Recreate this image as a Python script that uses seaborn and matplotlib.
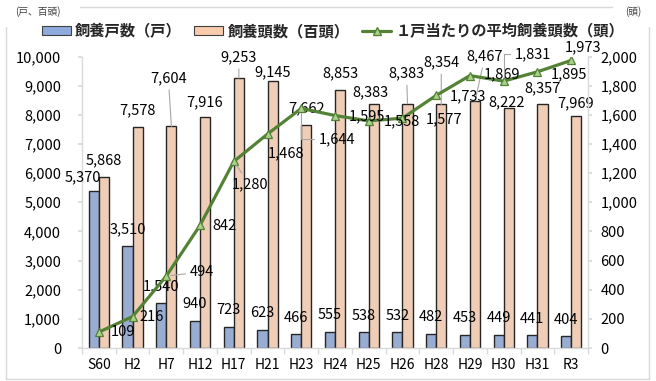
import numpy as np
import pandas as pd
import matplotlib
matplotlib.use("Agg")
import matplotlib.pyplot as plt
from matplotlib.lines import Line2D
from matplotlib.patches import Patch
from matplotlib.ticker import FuncFormatter, MultipleLocator, FixedLocator
import seaborn as sns

# ---- data -------------------------------------------------------------
categories = ["S60", "H2", "H7", "H12", "H17", "H21", "H23", "H24",
              "H25", "H26", "H28", "H29", "H30", "H31", "R3"]
households = [5370, 3510, 1540, 940, 723, 623, 466, 555,
              538, 532, 482, 453, 449, 441, 404]            # 飼養戸数（戸）
head_hundreds = [5868, 7578, 7604, 7916, 9253, 9145, 7662, 8853,
                 8383, 8383, 8354, 8467, 8222, 8357, 7969]  # 飼養頭数（百頭）
avg_head = [109, 216, 494, 842, 1280, 1468, 1644, 1595,
            1558, 1577, 1733, 1869, 1831, 1895, 1973]       # 1戸当たりの平均飼養頭数（頭）

series_households = "飼養戸数（戸）"
series_head = "飼養頭数（百頭）"
series_avg = "１戸当たりの平均飼養頭数（頭）"

# ---- label placement (pixel offsets from the mark; y up) ---------------
hh_offsets = {"S60": (-11, 14)}
head_offsets = {"H7": (-3, 48), "H17": (0, 21), "H21": (0, 9), "H25": (-3, 11),
                "H26": (-1, 30), "H28": (0, 42), "H29": (10, 45), "H30": (-2, 6),
                "R3": (-1, 12), "H12": (-1, 15)}
head_leaders = {"H7", "H17", "H26", "H28", "H29"}
avg_offsets = {"S60": (24, 0), "H2": (19, 0), "H7": (36, 4), "H12": (24, -1),
               "H17": (16, -23), "H21": (18, -19), "H23": (36, -31), "H24": (32, -1),
               "H25": (33, 0), "H26": (42, -1), "H28": (32, -1), "H29": (32, 1),
               "H30": (29, 27), "H31": (32, -2), "R3": (12, 13)}
avg_leaders = {"H7": "arc3", "H17": "arc3",
               "H23": "angle,angleA=0,angleB=90,rad=0",
               "H30": "angle,angleA=0,angleB=90,rad=0"}

# ---- styling ----------------------------------------------------------
sns.set_theme(style="white")
plt.rcParams["font.family"] = ["Noto Sans CJK JP", "DejaVu Sans"]

BLUE = "#8FAADC"
ORANGE = "#F8CBAD"
GREEN = "#548235"
LIGHT_GREEN = "#A9D18E"
AXIS_GREY = "#D9D9D9"
LEADER_GREY = "#A6A6A6"
TEXT = "#000000"
LABEL_FS = 10.5
TICK_FS = 10.5

fig = plt.figure(figsize=(6.56, 3.81), dpi=100)
W, H = 656, 381
ax = fig.add_axes([82 / W, 1 - 348 / H, (588 - 82) / W, (348 - 56.5) / H])

df = pd.DataFrame({
    "category": categories * 2,
    "value": households + head_hundreds,
    "series": [series_households] * len(categories) + [series_head] * len(categories),
})

sns.barplot(data=df, x="category", y="value", hue="series", order=categories,
            hue_order=[series_households, series_head],
            palette=[BLUE, ORANGE], width=0.6, gap=0, dodge=True,
            edgecolor="#262626", linewidth=1.0, legend=False, ax=ax)

ax.set_xlim(-0.5, len(categories) - 0.5)
ax.set_ylim(0, 10000)
ax.yaxis.set_major_locator(MultipleLocator(1000))
ax.yaxis.set_major_formatter(FuncFormatter(lambda v, p: f"{int(v):,}"))
ax.set_xlabel("")
ax.set_ylabel("")

ax2 = ax.twinx()
positions = np.arange(len(categories))
sns.lineplot(x=positions, y=avg_head, ax=ax2, color=GREEN, linewidth=2.3,
             marker="^", markersize=6, markerfacecolor=LIGHT_GREEN,
             markeredgecolor=GREEN, markeredgewidth=0.9)
ax2.set_ylim(0, 2000)
ax2.yaxis.set_major_locator(MultipleLocator(200))
ax2.yaxis.set_major_formatter(FuncFormatter(lambda v, p: f"{int(v):,}"))
ax2.set_xlim(-0.5, len(categories) - 0.5)
ax2.set_ylabel("")

# axes look
for a in (ax, ax2):
    a.spines["top"].set_visible(False)
    for side in ("left", "right", "bottom"):
        a.spines[side].set_color(AXIS_GREY)
        a.spines[side].set_linewidth(1.0)
ax.spines["right"].set_visible(False)
ax2.spines["left"].set_visible(False)
ax2.spines["bottom"].set_visible(False)

ax.tick_params(axis="y", which="major", length=3, color=AXIS_GREY, direction="out",
               labelsize=TICK_FS, labelcolor=TEXT, pad=12, left=True)
ax2.tick_params(axis="y", which="major", length=3, color=AXIS_GREY, direction="out",
                labelsize=TICK_FS, labelcolor=TEXT, pad=6, right=True)
ax.set_xticks(positions)
ax.set_xticklabels(categories)
ax.xaxis.set_minor_locator(FixedLocator(np.arange(-0.5, len(categories), 1.0)))
ax.tick_params(axis="x", which="major", length=0, labelsize=10, labelcolor=TEXT, pad=7)
ax.tick_params(axis="x", which="minor", length=4, color=AXIS_GREY, direction="out", bottom=True)
ax2.tick_params(axis="x", which="both", length=0)

# ---- data labels ------------------------------------------------------
half = 0.15  # half bar width in category units
for i, cat in enumerate(categories):
    dx, dy = hh_offsets.get(cat, (0, 16.5))
    ax.annotate(f"{households[i]:,}", xy=(i - half, households[i]), xytext=(dx, dy),
                textcoords="offset pixels", ha="center", va="center",
                fontsize=LABEL_FS, color=TEXT)

    dx, dy = head_offsets.get(cat, (0, 16.5))
    arrow = None
    if cat in head_leaders:
        arrow = dict(arrowstyle="-", color=LEADER_GREY, lw=0.8, shrinkA=1, shrinkB=0)
    ax.annotate(f"{head_hundreds[i]:,}", xy=(i + half, head_hundreds[i]), xytext=(dx, dy),
                textcoords="offset pixels", ha="center", va="center",
                fontsize=LABEL_FS, color=TEXT, arrowprops=arrow)

    dx, dy = avg_offsets.get(cat, (30, 0))
    arrow = None
    if cat in avg_leaders:
        arrow = dict(arrowstyle="-", color=LEADER_GREY, lw=0.8, shrinkA=1, shrinkB=3,
                     connectionstyle=avg_leaders[cat])
    ax2.annotate(f"{avg_head[i]:,}", xy=(i, avg_head[i]), xytext=(dx, dy),
                 textcoords="offset pixels", ha="center", va="center",
                 fontsize=LABEL_FS, color=TEXT, arrowprops=arrow, zorder=5)

# ---- legend -----------------------------------------------------------
handles = [
    Patch(facecolor=BLUE, edgecolor="#404040", linewidth=0.8),
    Patch(facecolor=ORANGE, edgecolor="#404040", linewidth=0.8),
    Line2D([0], [0], color=GREEN, linewidth=2.3, marker="^", markersize=6,
           markerfacecolor=LIGHT_GREEN, markeredgecolor=GREEN),
]
fig.legend(handles, [series_households, series_head, series_avg],
           loc="center", bbox_to_anchor=(333 / W, 1 - 31 / H), ncol=3, frameon=False,
           prop={"family": ["Noto Sans CJK JP"], "weight": "bold", "size": 11},
           handlelength=1.9, handleheight=0.45, handletextpad=0.3, columnspacing=0.8)

# ---- unit captions and chart frame -------------------------------------
fig.text(38 / W, 1 - 12 / H, "(戸、百頭)", ha="center", va="center", fontsize=7, color="#404040")
fig.text(633 / W, 1 - 12 / H, "(頭)", ha="center", va="center", fontsize=7, color="#404040")

frame_kw = dict(color=AXIS_GREY, linewidth=1.0, transform=fig.transFigure)
fig.add_artist(Line2D([80 / W, 612 / W], [1 - 7 / H, 1 - 7 / H], **frame_kw))
fig.add_artist(Line2D([5.5 / W, 5.5 / W], [1 - 27 / H, 1 - 379 / H], **frame_kw))
fig.add_artist(Line2D([648.5 / W, 648.5 / W], [1 - 27 / H, 1 - 379 / H], **frame_kw))
fig.add_artist(Line2D([5.5 / W, 648.5 / W], [1 - 379 / H, 1 - 379 / H], **frame_kw))

fig.savefig("out.png", dpi=100)
